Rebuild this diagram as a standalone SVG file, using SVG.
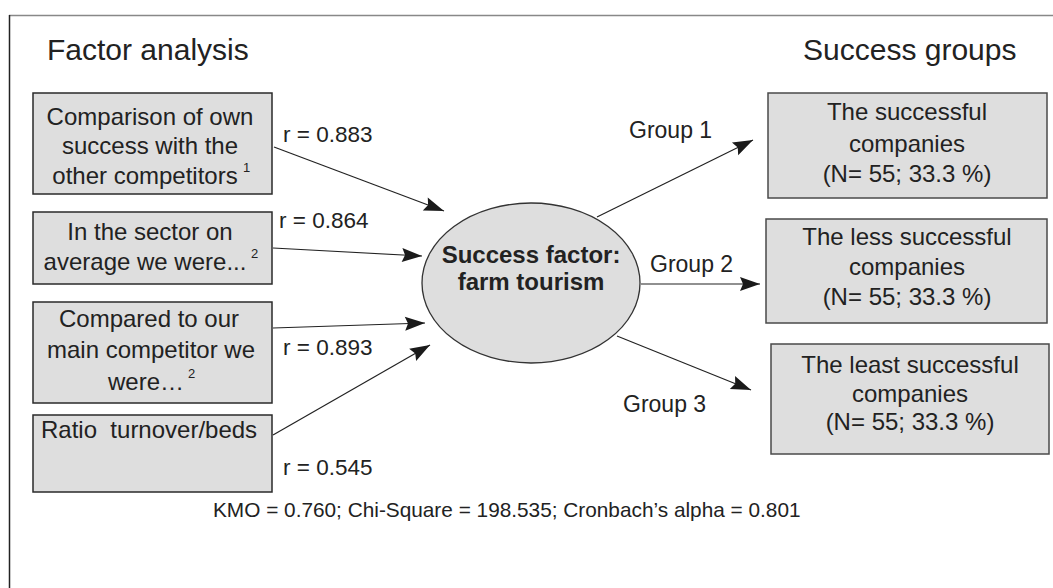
<svg xmlns="http://www.w3.org/2000/svg" width="1053" height="588" viewBox="0 0 1053 588">
<defs>
<style>
text{font-family:"Liberation Sans",Arial,sans-serif;fill:#222}
.title{font-size:30px}
.bt{font-size:24px;text-anchor:middle}
.lab{font-size:22.5px}
.grp{font-size:23px}
.sup{font-size:13px}
.ctr{font-size:24px;font-weight:bold;text-anchor:middle}
.lbox{fill:#dedede;stroke:#2a2a2a;stroke-width:1.5}
.rbox{fill:#dedede;stroke:#4a4a4a;stroke-width:1.5}
.conn{stroke:#222;stroke-width:1.2;fill:none;marker-end:url(#ah)}
</style>
<marker id="ah" markerUnits="userSpaceOnUse" markerWidth="22" markerHeight="16" refX="21" refY="8" orient="auto">
<path d="M1,1 L21,8 L1,15 L4,8 z" fill="#1a1a1a"/>
</marker>
</defs>
<rect x="0" y="0" width="1053" height="588" fill="#fff"/>
<line x1="9" y1="15.5" x2="1053" y2="15.5" stroke="#888" stroke-width="1.5"/>
<line x1="9.5" y1="15" x2="9.5" y2="588" stroke="#222" stroke-width="1.5"/>

<text class="title" x="47" y="60">Factor analysis</text>
<text class="title" x="803" y="60">Success groups</text>

<g id="connectors">
<line class="conn" x1="274" y1="147" x2="444" y2="211"/>
<line class="conn" x1="273" y1="248" x2="422" y2="256"/>
<line class="conn" x1="273" y1="328" x2="425" y2="323"/>
<line class="conn" x1="273" y1="435" x2="430" y2="345"/>
<line class="conn" x1="597" y1="217" x2="753" y2="140"/>
<line class="conn" x1="641" y1="284" x2="760" y2="284"/>
<line class="conn" x1="617" y1="336" x2="751" y2="390"/>
<text class="lab" x="283" y="142">r = 0.883</text>
<text class="lab" x="279" y="228">r = 0.864</text>
<text class="lab" x="283" y="355">r = 0.893</text>
<text class="lab" x="283" y="475">r = 0.545</text>
<text class="grp" x="629" y="138">Group 1</text>
<text class="grp" x="650" y="272">Group 2</text>
<text class="grp" x="623" y="412">Group 3</text>
</g>

<g id="f1">
<rect class="lbox" x="33" y="93" width="239" height="101"/>
<text class="bt" x="150" y="125">Comparison of own</text>
<text class="bt" x="150" y="154">success with the</text>
<text class="bt" x="145" y="184">other competitors</text>
<text class="sup" x="243" y="172">1</text>
</g>
<g id="f2">
<rect class="lbox" x="33" y="212" width="239" height="72"/>
<text class="bt" x="150" y="240">In the sector on</text>
<text class="bt" x="145" y="270">average we were...</text>
<text class="sup" x="251" y="258">2</text>
</g>
<g id="f3">
<rect class="lbox" x="33" y="302" width="239" height="101"/>
<text class="bt" x="149" y="327">Compared to our</text>
<text class="bt" x="151" y="358">main competitor we</text>
<text class="bt" x="146" y="390">were…</text>
<text class="sup" x="188" y="378">2</text>
</g>
<g id="f4">
<rect class="lbox" x="33" y="415" width="239" height="77"/>
<text x="41" y="438" style="font-size:24px" xml:space="preserve">Ratio  turnover/beds</text>
</g>

<g id="center">
<ellipse cx="531" cy="283" rx="109" ry="80" fill="#dedede" stroke="#333" stroke-width="1.3"/>
<text class="ctr" x="531" y="263">Success factor:</text>
<text class="ctr" x="531" y="290">farm tourism</text>
</g>

<g id="g1">
<rect class="rbox" x="768" y="93" width="279" height="105"/>
<text class="bt" x="907" y="120">The successful</text>
<text class="bt" x="907" y="152">companies</text>
<text class="bt" x="907" y="182">(N= 55; 33.3 %)</text>
</g>
<g id="g2">
<rect class="rbox" x="766" y="219" width="281" height="104"/>
<text class="bt" x="907" y="245">The less successful</text>
<text class="bt" x="907" y="275">companies</text>
<text class="bt" x="907" y="305">(N= 55; 33.3 %)</text>
</g>
<g id="g3">
<rect class="rbox" x="771" y="344" width="278" height="110"/>
<text class="bt" x="910" y="373">The least successful</text>
<text class="bt" x="910" y="402">companies</text>
<text class="bt" x="910" y="430">(N= 55; 33.3 %)</text>
</g>

<text x="213" y="517" style="font-size:20.8px">KMO = 0.760; Chi-Square = 198.535; Cronbach’s alpha = 0.801</text>
</svg>
